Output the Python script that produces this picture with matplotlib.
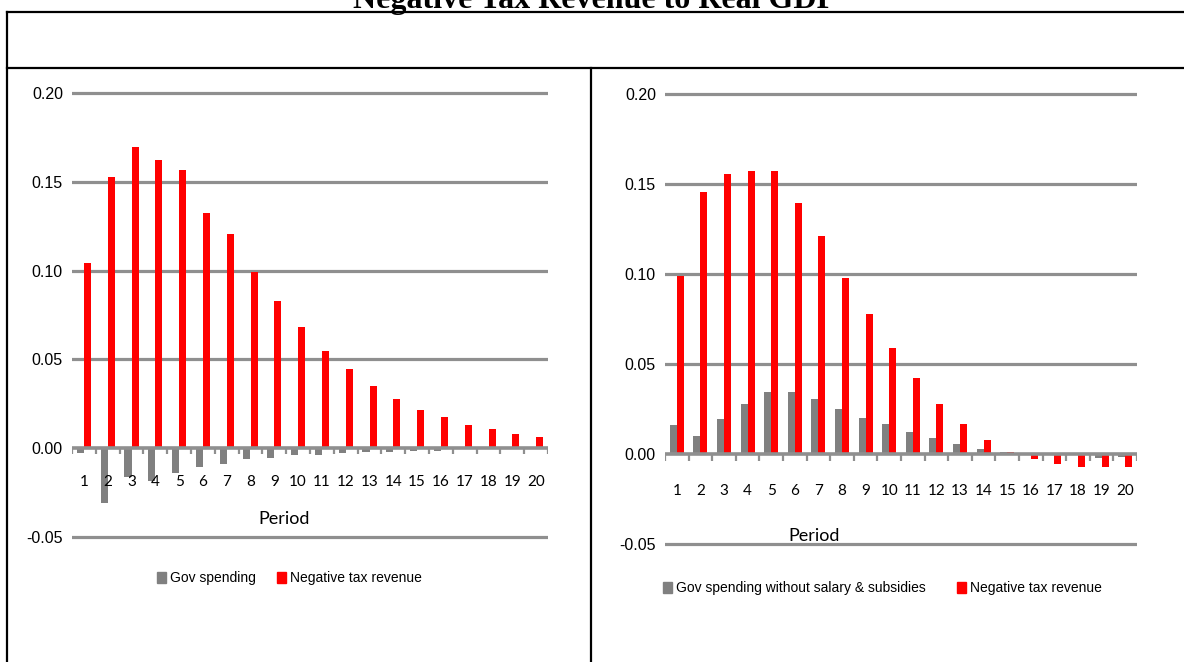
import matplotlib
matplotlib.use("Agg")
import matplotlib.pyplot as plt
from matplotlib.lines import Line2D
import numpy as np

# data
periods = [str(i) for i in range(1, 21)]

gov_left = [-0.003, -0.031, -0.0166, -0.0185, -0.0143, -0.011, -0.009, -0.0064, -0.0056, -0.0039,
            -0.0039, -0.003, -0.0022, -0.0022, -0.0015, -0.0015, -0.0005, -0.0003, -0.0002, -0.0001]
tax_left = [0.1045, 0.153, 0.1695, 0.1625, 0.157, 0.1326, 0.1206, 0.0994, 0.083, 0.0684,
            0.0548, 0.0445, 0.0352, 0.0274, 0.0214, 0.0173, 0.0129, 0.0105, 0.0079, 0.0064]

gov_right = [0.0161, 0.0102, 0.0194, 0.028, 0.0348, 0.0348, 0.0305, 0.0254, 0.0204, 0.0168,
             0.0124, 0.0091, 0.0056, 0.0029, 0.0015, 0.0006, -0.0003, -0.0005, -0.0019, -0.0015]
tax_right = [0.0992, 0.1455, 0.1557, 0.1574, 0.1574, 0.1396, 0.1215, 0.0981, 0.0779, 0.0589,
             0.0424, 0.028, 0.0168, 0.0081, 0.0015, -0.0028, -0.0054, -0.0071, -0.0071, -0.0071]

yticks = [-0.05, 0.0, 0.05, 0.10, 0.15, 0.20]

W, H = 1184, 662
GRAY = "#808080"
GRID = "#8f8f8f"
RED = "#ff0000"
NARROW = ["Liberation Sans", "DejaVu Sans"]
SANS = ["Lato", "DejaVu Sans"]

fig = plt.figure(figsize=(W / 100, H / 100), dpi=100)


def px_axes(x0, x1, ytop, ybot):
    return fig.add_axes([x0 / W, 1 - ybot / H, (x1 - x0) / W, (ybot - ytop) / H])


def draw_panel(ax, gov, tax, label_drop):
    x = np.arange(len(periods))
    ax.bar(x - 0.15, gov, width=0.3, color=GRAY, zorder=2)
    ax.bar(x + 0.15, tax, width=0.3, color=RED, zorder=2)
    ax.set_xlim(-0.5, len(periods) - 0.5)
    ax.set_ylim(-0.052, 0.202)
    for s in ax.spines.values():
        s.set_visible(False)
    for v in yticks:
        if v != 0:
            ax.axhline(v, color=GRID, lw=2.3, zorder=1)
    ax.axhline(0, color=GRID, lw=2.6, zorder=3)
    ax.set_yticks(yticks)
    ax.set_yticklabels(["%.2f" % v for v in yticks], family=NARROW, fontsize=11.5)
    ax.tick_params(axis="y", length=0, pad=6.5)
    ax.set_xticks([])
    # period numbers hang below the zero line, not below the axes box
    for i, p in enumerate(periods):
        ax.annotate(p, (i, 0), xytext=(0, -label_drop * 0.72), textcoords="offset points",
                    ha="center", va="center", family=SANS, fontsize=11)
    # category boundary ticks hanging from the zero line
    bounds = np.arange(len(periods) + 1) - 0.5
    ax.vlines(bounds, -0.0035, 0, color=GRID, lw=1.6, zorder=3)
    return ax


axL = px_axes(72, 548, 89.7, 540.2)
draw_panel(axL, gov_left, tax_left, label_drop=33.7)
axR = px_axes(665, 1137, 90.7, 547.9)
draw_panel(axR, gov_right, tax_right, label_drop=36.7)

fig.text(284 / W, 1 - 519 / H, "Period", family=SANS, fontsize=13, ha="center", va="center")
fig.text(814 / W, 1 - 536 / H, "Period", family=SANS, fontsize=13, ha="center", va="center")

hL = [plt.Rectangle((0, 0), 1, 1, color=GRAY), plt.Rectangle((0, 0), 1, 1, color=RED)]
fig.legend(hL, ["Gov spending", "Negative tax revenue"], loc="center left",
           bbox_to_anchor=(157 / W, 1 - 578 / H), ncol=2, frameon=False,
           prop={"family": NARROW, "size": 10}, handlelength=0.65, handleheight=0.85,
           handletextpad=0.3, columnspacing=1.5, borderpad=0, borderaxespad=0)
fig.legend(hL, ["Gov spending without salary & subsidies", "Negative tax revenue"], loc="center left",
           bbox_to_anchor=(663 / W, 1 - 588 / H), ncol=2, frameon=False,
           prop={"family": NARROW, "size": 10}, handlelength=0.65, handleheight=0.85,
           handletextpad=0.3, columnspacing=2.2, borderpad=0, borderaxespad=0)

# table frame around the two charts
lw = 1.6
for (xa, xb, ya, yb) in [(7, W, 12, 12), (7, W, 68, 68), (7, 7, 12, H), (591, 591, 68, H)]:
    fig.add_artist(Line2D([xa / W, xb / W], [1 - ya / H, 1 - yb / H], color="black", lw=lw,
                          transform=fig.transFigure))

fig.text(595 / W, 1 - 8 / H, "Negative Tax Revenue to Real GDP", family="Liberation Serif",
         weight="bold", fontsize=23, ha="center", va="baseline")

fig.savefig("out.png", dpi=100)
